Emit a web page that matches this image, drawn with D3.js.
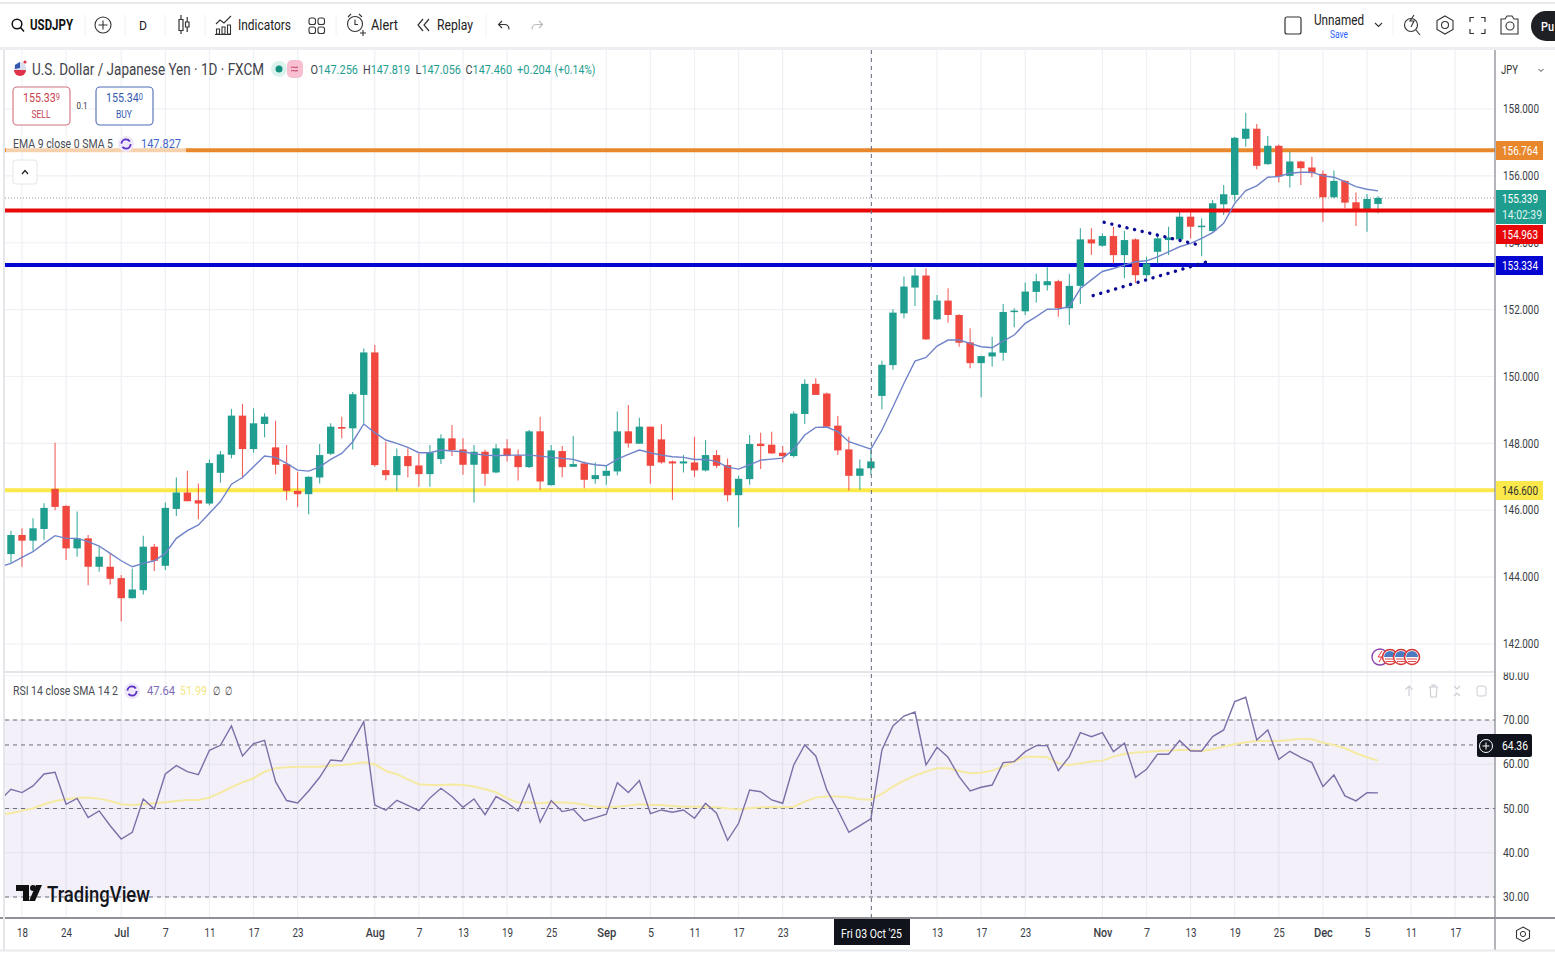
<!DOCTYPE html>
<html>
<head>
<meta charset="utf-8">
<title>USDJPY</title>
<script src="https://cdn.jsdelivr.net/npm/d3@7"></script>
<style>
  html, body { margin: 0; padding: 0; background: #fff; overflow: hidden; }
  svg { display: block; }
  text { font-family: Roboto, sans-serif; }
</style>
</head>
<body>
<script>
// daily bars, first entry is two bars before 18 Jun
var opens = [144.50,144.69,145.26,145.09,145.44,146.64,146.13,144.86,145.16,144.31,
  144.31,143.97,143.37,143.61,144.91,144.34,146.04,146.53,146.30,146.20,
  147.12,147.66,148.83,147.83,148.58,147.88,147.38,146.58,146.48,146.98,
  147.69,148.49,148.45,149.45,150.72,147.20,147.05,147.62,147.34,147.08,
  147.53,148.15,147.82,147.36,147.75,147.13,147.85,147.64,147.29,148.36,
  146.75,147.77,147.30,147.40,146.93,147.03,147.16,148.36,147.99,148.50,
  148.12,147.46,147.40,147.43,147.19,147.65,147.35,146.45,146.93,147.99,
  147.96,147.72,147.62,148.88,149.78,149.49,148.53,147.82,147.03,147.256,
  149.42,150.34,151.89,152.66,153.02,151.71,152.27,151.84,151.02,150.40,
  150.60,150.71,151.93,151.95,152.53,152.73,152.85,152.04,152.71,154.10,
  153.91,154.20,153.63,154.10,153.03,153.73,154.08,154.10,154.78,154.49,
  154.35,155.15,155.43,157.11,157.41,156.35,156.90,156.00,156.43,156.25,
  156.06,155.36,155.85,155.21,155.00,155.16];
var highs = [144.90,145.39,145.46,145.76,146.21,148.02,146.15,145.96,145.26,144.91,
  144.71,144.06,144.26,145.24,144.99,146.23,146.98,147.18,146.80,147.52,
  147.77,149.03,149.18,149.05,148.90,148.68,147.95,147.15,147.02,147.98,
  148.60,148.80,149.54,150.84,150.94,148.05,147.85,147.85,147.70,147.95,
  148.27,148.55,148.15,147.95,147.82,147.98,148.12,147.82,148.40,148.80,
  147.95,147.92,148.22,147.46,147.43,147.33,148.95,149.15,148.77,148.50,
  148.57,147.49,147.65,148.20,148.10,147.80,147.55,147.03,148.25,148.32,
  148.35,147.92,148.95,149.92,149.95,149.52,148.82,148.20,147.52,147.819,
  150.47,152.01,152.99,153.24,153.24,152.44,152.64,151.86,151.44,150.62,
  151.19,152.17,152.04,152.81,153.07,153.27,152.89,153.07,154.43,154.43,
  154.28,154.48,154.36,154.13,153.58,154.28,154.48,154.98,154.93,154.73,
  155.28,155.73,157.17,157.89,157.55,157.19,156.94,156.72,156.45,156.57,
  156.16,156.16,155.88,155.50,155.46,155.40];
var lows = [144.20,144.43,144.31,144.79,145.11,146.00,144.51,144.61,143.76,144.16,
  143.78,142.67,143.36,143.48,144.18,144.21,145.83,146.27,145.73,146.15,
  146.82,147.55,146.95,147.72,148.18,147.08,146.30,146.10,145.88,146.80,
  147.65,148.15,147.82,148.60,147.30,146.90,146.58,146.98,146.70,146.70,
  147.38,147.62,147.06,146.23,146.73,147.11,147.46,146.89,147.26,146.61,
  146.74,146.99,147.29,146.66,146.79,146.76,147.05,147.88,147.98,146.79,
  147.39,146.31,147.13,146.99,147.16,147.26,146.26,145.49,146.76,147.23,
  147.68,147.43,147.58,148.58,149.45,148.48,147.65,146.59,146.61,147.056,
  149.02,150.20,151.74,152.11,151.09,151.69,151.61,150.89,150.25,149.38,
  150.30,150.47,151.47,151.84,152.21,152.57,151.79,151.54,152.17,153.63,
  153.88,153.38,152.94,152.80,152.94,153.38,153.63,154.03,154.13,153.60,
  154.33,154.83,155.23,156.87,156.20,156.33,155.80,155.65,155.73,155.96,
  154.63,155.33,155.03,154.50,154.33,154.88];
var closes = [144.70,145.26,145.09,145.46,146.07,146.10,144.86,145.16,144.31,144.61,
  143.95,143.37,143.63,144.91,144.49,146.07,146.53,146.27,146.20,147.41,
  147.67,148.83,147.83,148.60,148.80,147.36,146.58,146.48,147.00,147.65,
  148.50,148.44,149.47,150.72,147.35,147.05,147.62,147.32,147.08,147.72,
  148.15,147.80,147.36,147.75,147.09,147.85,147.62,147.29,148.36,146.86,
  147.79,147.29,147.38,146.91,147.05,147.18,148.36,148.00,148.50,147.33,
  147.43,147.40,147.46,147.19,147.65,147.33,146.45,146.94,147.98,147.92,
  147.70,147.62,148.89,149.78,149.45,148.50,147.79,147.03,147.25,147.46,
  150.35,151.91,152.69,153.02,151.11,152.27,151.84,151.01,150.40,150.61,
  150.72,151.93,151.97,152.54,152.85,152.85,152.04,152.71,154.10,153.98,
  154.20,153.63,154.08,153.03,153.38,154.13,154.16,154.78,154.48,154.51,
  155.18,155.45,157.14,157.41,156.30,156.90,155.98,156.43,156.23,156.08,
  155.36,155.85,155.20,154.93,155.31,155.339];
var ema = [144.31,144.41,144.59,144.76,145.01,145.24,145.16,145.16,145.06,144.93,
  144.71,144.49,144.31,144.41,144.49,144.71,145.16,145.39,145.56,145.91,
  146.26,146.78,146.98,147.30,147.62,147.58,147.40,147.20,147.17,147.30,
  147.52,147.70,148.05,148.58,148.32,148.10,148.00,147.88,147.72,147.72,
  147.80,147.77,147.75,147.69,147.65,147.63,147.65,147.65,147.65,147.62,
  147.58,147.55,147.52,147.42,147.36,147.33,147.53,147.67,147.80,147.72,
  147.65,147.60,147.58,147.52,147.52,147.46,147.29,147.23,147.36,147.50,
  147.53,147.56,147.82,148.25,148.48,148.49,148.35,148.05,147.94,147.827,
  148.40,149.09,149.80,150.46,150.57,150.91,151.09,151.09,150.99,150.89,
  150.86,151.06,151.24,151.59,151.79,152.01,152.02,152.09,152.63,152.89,
  153.14,153.23,153.33,153.43,153.46,153.58,153.73,153.88,153.98,154.13,
  154.30,154.58,155.18,155.56,155.70,155.96,155.98,156.08,156.11,156.11,
  156.00,155.96,155.83,155.68,155.60,155.55];
var rsi = [51.9,54.34,53.59,55.1,57.8,58.2,50.95,52.3,47.94,49.45,
  46.1,43.1,44.6,52.16,49.9,57.8,59.7,58.33,57.66,63.15,
  64.28,68.65,61.87,64.66,65.4,56.07,51.8,51.25,53.97,57.05,
  60.97,60.74,65.1,69.63,50.8,49.6,51.86,50.73,49.5,52.4,
  54.57,52.7,50.28,52.16,48.6,52.7,51.33,49.45,55.47,46.9,
  51.78,49.3,49.82,47.2,47.94,48.7,55.85,53.6,56.3,48.85,
  49.67,49.15,49.67,47.8,51.18,48.92,42.82,46.66,54.19,53.8,
  51.93,51.18,59.84,64.36,61.87,54.19,49.67,44.63,46.13,47.64,
  63.23,68.65,70.9,71.8,59.84,63.83,61.57,57.2,53.97,54.8,
  55.3,60.37,60.6,62.85,64.21,64.21,58.56,61.73,67.15,66.24,
  67.15,62.85,64.74,57.06,58.86,62.25,62.25,65.34,63.0,63.0,
  66.24,67.75,74.15,75.13,65.49,67.75,61.12,62.93,61.57,60.37,
  54.95,57.58,52.84,51.71,53.59,53.52];
var rsiMa = [48.7,48.92,49.52,50.05,50.95,51.7,52.08,52.38,52.46,52.23,
  51.7,50.95,50.8,50.95,51.18,51.4,51.7,51.93,51.93,52.46,
  53.59,54.8,55.92,56.83,58.33,59.09,59.31,59.46,59.46,59.46,
  59.69,59.84,60.07,60.44,59.99,58.48,57.73,56.6,55.47,55.32,
  55.32,55.4,55.32,54.95,54.34,53.67,52.3,51.33,51.33,51.18,
  51.4,51.33,51.25,50.88,50.4,50.3,50.4,50.65,50.95,50.8,
  50.8,50.58,50.4,50.4,50.4,50.3,50.0,49.8,50.05,50.3,
  50.35,50.3,50.4,51.55,52.46,52.69,52.69,52.54,52.08,51.99,
  53.29,54.95,56.3,57.43,58.33,59.09,59.09,58.48,57.96,58.1,
  58.56,59.47,60.6,61.72,61.72,61.57,60.2,59.84,60.2,60.6,
  60.82,61.72,62.33,62.63,62.78,63.0,63.08,63.23,63.23,63.0,
  63.38,63.98,64.51,64.96,65.26,65.26,65.26,65.49,65.79,65.64,
  64.89,64.36,63.61,62.48,61.57,60.82];

var priceTicks = [158,156,154,152,150,148,146,144,142];
var rsiTicks = [80,70,60,50,40,30];
var rsiLevels = [70, 64.36, 50, 30];
var timeIdx = [2,6,11,15,19,23,27,34,38,42,46,50,55,59,63,67,71,79,85,89,93,100,104,108,112,116,120,124,128,132];
var timeLabels = ["18","24","Jul","7","11","17","23","Aug","7","13","19","25","Sep","5","11","17","23","","13","17","23","Nov","7","13","19","25","Dec","5","11","17"];
var crossIdx = 79;

var levelPrices = [146.6, 153.334, 154.963, 156.764];
var levelColors = ["#fbe84a", "#0505d2", "#e80808", "#e8872c"];
var lastPrice = 155.339;
var trendUpper = [[100.16, 154.61], [109.06, 153.91]];
var trendLower = [[99.16, 152.42], [110.0, 153.48]];

var W = 1555, H = 955;
var plotL = 5, plotR = 1495, priceT = 50, priceB = 672, rsiB = 918;

var bars = opens.map(function(o, i) {
  return {i: i, open: o, high: highs[i], low: lows[i], close: closes[i], ema: ema[i], rsi: rsi[i], ma: rsiMa[i]};
});

var x = d3.scaleLinear().domain([2, 124]).range([22, 1367]);
var y = d3.scaleLinear().domain([142, 158]).range([644, 109]);
var yr = d3.scaleLinear().domain([30, 70]).range([897, 720]);

var svg = d3.select("body").append("svg").attr("width", W).attr("height", H);
svg.append("rect").attr("width", W).attr("height", H).attr("fill", "#fff");

var defs = svg.append("defs");
defs.append("clipPath").attr("id", "priceClip").append("rect")
  .attr("x", plotL).attr("y", priceT).attr("width", plotR - plotL).attr("height", priceB - priceT);
defs.append("clipPath").attr("id", "rsiClip").append("rect")
  .attr("x", plotL).attr("y", priceB).attr("width", plotR - plotL).attr("height", rsiB - priceB);
// local to the axis group, which is moved to x=1498
defs.append("clipPath").attr("id", "rsiAxisClip").append("rect")
  .attr("x", 0).attr("y", priceB + 1).attr("width", 60).attr("height", rsiB - priceB);

// squeezed text, the screenshot was narrowed so fit everything to its measured width
function label(x0, y0, str, size, fill, width, anchor, weight) {
  var t = svg.append("text").attr("x", x0).attr("y", y0).attr("dy", "0.36em")
    .attr("font-size", size).attr("fill", fill).text(str);
  if (width) t.attr("textLength", width).attr("lengthAdjust", "spacingAndGlyphs");
  if (anchor) t.attr("text-anchor", anchor);
  if (weight) t.attr("font-weight", weight);
  return t;
}
// same, with a first run in one colour and the rest in another
function label2(x0, y0, a, b, size, fillA, fillB, width, sizeB) {
  var t = label(x0, y0, "", size, fillA, width);
  t.append("tspan").text(a);
  var s = t.append("tspan").attr("fill", fillB).text(b);
  if (sizeB) s.attr("font-size", sizeB).attr("dy", -2);
  return t;
}
function icon(d, stroke, sw, fill) {
  return svg.append("path").attr("d", d).attr("fill", fill || "none")
    .attr("stroke", stroke || "#222").attr("stroke-width", sw || 1.2);
}

// grid
var grid = svg.append("g").attr("stroke", "#eef0f4").attr("stroke-width", 1.2);
grid.selectAll(".v").data(timeIdx).enter().append("line")
  .attr("x1", function(d) { return x(d); }).attr("x2", function(d) { return x(d); })
  .attr("y1", priceT).attr("y2", rsiB);
grid.selectAll(".h").data(priceTicks).enter().append("line")
  .attr("x1", plotL).attr("x2", plotR)
  .attr("y1", function(d) { return y(d); }).attr("y2", function(d) { return y(d); });
grid.selectAll(".r").data(rsiTicks).enter().append("line")
  .attr("x1", plotL).attr("x2", plotR)
  .attr("y1", function(d) { return yr(d); }).attr("y2", function(d) { return yr(d); });

// price pane
var price = svg.append("g").attr("clip-path", "url(#priceClip)");
price.append("line").attr("x1", plotL).attr("x2", plotR)
  .attr("y1", y(lastPrice)).attr("y2", y(lastPrice))
  .attr("stroke", "#8f9a9a").attr("stroke-width", 1).attr("stroke-dasharray", "1 2");

// yellow, blue and orange sit behind the candles, red in front
function levelLine(g, idx) {
  g.append("line").attr("x1", plotL).attr("x2", plotR)
    .attr("y1", y(levelPrices[idx])).attr("y2", y(levelPrices[idx]))
    .attr("stroke", levelColors[idx]).attr("stroke-width", 4);
}
levelLine(price, 0);
levelLine(price, 1);
levelLine(price, 3);

var candle = price.selectAll(".candle").data(bars).enter().append("g").attr("class", "candle");
function barColor(d) { return d.close >= d.open ? "#1f9e8f" : "#f0473f"; }
candle.append("line")
  .attr("x1", function(d) { return x(d.i); }).attr("x2", function(d) { return x(d.i); })
  .attr("y1", function(d) { return y(d.high); }).attr("y2", function(d) { return y(d.low); })
  .attr("stroke", barColor).attr("stroke-width", 1.1).attr("stroke-opacity", 0.85);
candle.append("rect")
  .attr("x", function(d) { return x(d.i) - 3.7; }).attr("width", 7.4)
  .attr("y", function(d) { return y(Math.max(d.open, d.close)); })
  .attr("height", function(d) { return Math.max(1.5, Math.abs(y(d.open) - y(d.close))); })
  .attr("fill", barColor);

levelLine(price, 2);

price.append("path").datum(bars)
  .attr("fill", "none").attr("stroke", "#6f83c9").attr("stroke-width", 1.4)
  .attr("d", d3.line().x(function(d) { return x(d.i); }).y(function(d) { return y(d.ema); }));

// hand drawn triangle
var trendLine = d3.line().x(function(d) { return x(d[0]); }).y(function(d) { return y(d[1]); });
[trendUpper, trendLower].forEach(function(t) {
  price.append("path").datum(t).attr("d", trendLine).attr("fill", "none")
    .attr("stroke", "#0a0a96").attr("stroke-width", 3.4).attr("stroke-linecap", "round")
    .attr("stroke-dasharray", "0.1 7.7");
});

// rsi pane
var rsiPane = svg.append("g").attr("clip-path", "url(#rsiClip)");
rsiPane.append("rect").attr("x", plotL).attr("width", plotR - plotL)
  .attr("y", yr(70)).attr("height", yr(30) - yr(70))
  .attr("fill", "#7e57c2").attr("fill-opacity", 0.09);
rsiPane.selectAll(".lvl").data(rsiLevels).enter().append("line")
  .attr("x1", plotL).attr("x2", plotR)
  .attr("y1", function(d) { return yr(d); }).attr("y2", function(d) { return yr(d); })
  .attr("stroke", "#6b6e78").attr("stroke-width", 1).attr("stroke-dasharray", "4 4");
rsiPane.append("path").datum(bars)
  .attr("fill", "none").attr("stroke", "#f6eaa2").attr("stroke-width", 2)
  .attr("d", d3.line().x(function(d) { return x(d.i); }).y(function(d) { return yr(d.ma); }));
rsiPane.append("path").datum(bars)
  .attr("fill", "none").attr("stroke", "#7d6fa8").attr("stroke-width", 1.4)
  .attr("d", d3.line().x(function(d) { return x(d.i); }).y(function(d) { return yr(d.rsi); }));

// crosshair
svg.append("line").attr("x1", x(crossIdx) + 0.5).attr("x2", x(crossIdx) + 0.5).attr("y1", priceT).attr("y2", rsiB)
  .attr("stroke", "#6b6e78").attr("stroke-width", 1).attr("stroke-dasharray", "4 4");

// frame
svg.append("line").attr("x1", plotL).attr("x2", plotR).attr("y1", priceB).attr("y2", priceB).attr("stroke", "#e3e5ea").attr("stroke-width", 2);
svg.append("line").attr("x1", 0).attr("x2", W).attr("y1", rsiB).attr("y2", rsiB).attr("stroke", "#6a6d74").attr("stroke-width", 1.3);
svg.append("line").attr("x1", plotR).attr("x2", plotR).attr("y1", priceT).attr("y2", 951).attr("stroke", "#8a8d94").attr("stroke-width", 1.3);
svg.append("line").attr("x1", 4).attr("x2", 4).attr("y1", priceT).attr("y2", 950).attr("stroke", "#e6e7ea").attr("stroke-width", 2);
svg.append("line").attr("x1", 0).attr("x2", W).attr("y1", 950.5).attr("y2", 950.5).attr("stroke", "#e8e9ec").attr("stroke-width", 2);

// axes
function squeeze(sel, w) {
  sel.selectAll("text").attr("textLength", w).attr("lengthAdjust", "spacingAndGlyphs")
    .attr("font-size", 13).attr("fill", "#3a3d45");
  sel.select(".domain").remove();
}
svg.append("g").attr("transform", "translate(1498,-0.5)")
  .call(d3.axisRight(y).tickValues(priceTicks).tickSize(0).tickPadding(5).tickFormat(d3.format(".3f")))
  .call(squeeze, 36);
svg.append("g").attr("transform", "translate(1498,-0.5)").attr("clip-path", "url(#rsiAxisClip)")
  .call(d3.axisRight(yr).tickValues(rsiTicks).tickSize(0).tickPadding(5).tickFormat(d3.format(".2f")))
  .call(squeeze, 26);

var timeAxis = svg.append("g").attr("transform", "translate(0," + (rsiB + 3) + ")")
  .call(d3.axisBottom(x).tickValues(timeIdx).tickSize(0).tickPadding(7)
    .tickFormat(function(d) { return timeLabels[timeIdx.indexOf(d)]; }));
timeAxis.select(".domain").remove();
timeAxis.selectAll("text").attr("font-size", 13).attr("fill", "#3a3d45")
  .attr("font-weight", function(d) { return timeLabels[timeIdx.indexOf(d)].length === 3 ? 500 : null; })
  .attr("textLength", function(d) {
    var s = timeLabels[timeIdx.indexOf(d)];
    return s === "Jul" ? 15 : s.length === 3 ? 19 : s.length === 2 ? 11 : 6;
  })
  .attr("lengthAdjust", "spacingAndGlyphs");

svg.append("rect").attr("x", 834).attr("y", 919).attr("width", 76).attr("height", 26).attr("fill", "#10131c");
label(841, 933.5, "Fri 03 Oct '25", 13, "#fff", 61);

// price tags on the axis
function tag(top, h, width, fill) {
  svg.append("rect").attr("x", plotR + 1).attr("y", top).attr("width", width).attr("height", h).attr("fill", fill);
}
tag(141, 19, 47, levelColors[3]);
label(1502, 150.5, "156.764", 13, "#fff", 36);
tag(190, 34, 50, "#1f9e8f");
label(1502, 198.5, "155.339", 13, "#fff", 36);
label(1502, 214.5, "14:02:39", 13, "#dff3ef", 40);
tag(225, 19, 47, "#e80808");
label(1502, 234.5, "154.963", 13, "#fff", 36);
tag(256, 19, 47, levelColors[1]);
label(1502, 265.5, "153.334", 13, "#fff", 36);
tag(481, 19, 47, levelColors[0]);
label(1502, 490.5, "146.600", 13, "#333", 36);

// rsi crosshair tag
svg.append("rect").attr("x", 1477).attr("y", 734).attr("width", 55).attr("height", 23).attr("rx", 2).attr("fill", "#10131c");
svg.append("circle").attr("cx", 1486).attr("cy", 746).attr("r", 6.5).attr("fill", "none").attr("stroke", "#fff").attr("stroke-width", 1);
icon("M1486 742.5v7M1482.5 746h7", "#fff", 1);
label(1502, 745, "64.36", 13, "#fff", 26);

// toolbar
svg.append("rect").attr("x", 0).attr("y", 2).attr("width", W).attr("height", 2).attr("fill", "#e8e9ec");
svg.append("rect").attr("x", 0).attr("y", 47).attr("width", W).attr("height", 3).attr("fill", "#eceef1");
svg.append("circle").attr("cx", 17).attr("cy", 24).attr("r", 4.8).attr("fill", "none").attr("stroke", "#111").attr("stroke-width", 1.5);
icon("M20.5 27.5l3.5 4", "#111", 1.5);
label(30, 25, "USDJPY", 14, "#111", 43, null, "bold");
svg.append("circle").attr("cx", 103).attr("cy", 25).attr("r", 8).attr("fill", "none").attr("stroke", "#333").attr("stroke-width", 1.1);
icon("M103 20.5v9M98.5 25h9", "#333", 1.1);
label(143, 25, "D", 13, "#222", 8, "middle");
icon("M179 19.5h4v11h-4zM181 15v4.5M181 30.5v3.5M185.5 22h3.5v5h-3.5zM187.2 17v5M187.2 27v5", "#333", 1.2);
icon("M216 24l4-4 4 3 7-7M216.5 34v-5h3v5zM222 34v-7h3v7zM227.5 34v-9h3v9zM215 34.5h16", "#333", 1.1);
label(238, 25, "Indicators", 15, "#222", 53);
[[309,18],[318,18],[309,27],[318,27]].forEach(function(p) {
  svg.append("rect").attr("x", p[0]).attr("y", p[1]).attr("width", 6.5).attr("height", 6.5).attr("rx", 2)
    .attr("fill", "none").attr("stroke", "#333").attr("stroke-width", 1.1);
});
svg.append("circle").attr("cx", 355).attr("cy", 24).attr("r", 7.5).attr("fill", "none").attr("stroke", "#333").attr("stroke-width", 1.1);
icon("M355 19.5v5h3M348 17l3-3M362 17l-3-3M360 33h6M363 30v6", "#333", 1.1);
label(371, 25, "Alert", 15, "#222", 27);
icon("M423 19l-5 6 5 6M429 19l-5 6 5 6", "#333", 1.2);
label(437, 25, "Replay", 15, "#222", 36);
icon("M502 21l-3.5 3.5 3.5 3.5M498.5 24.5h6c3 0 4.5 1.5 4.5 5", "#333", 1.1);
icon("M539 21l3.5 3.5-3.5 3.5M542.5 24.5h-6c-3 0-4.5 1.5-4.5 5", "#bbb", 1.1);
[85, 125, 165, 205, 336, 486, 1393].forEach(function(px) {
  svg.append("line").attr("x1", px).attr("x2", px).attr("y1", 14).attr("y2", 36).attr("stroke", "#f1f2f4");
});
svg.append("rect").attr("x", 1285).attr("y", 17).attr("width", 16).attr("height", 17).attr("rx", 2)
  .attr("fill", "none").attr("stroke", "#333").attr("stroke-width", 1.2);
label(1314, 20, "Unnamed", 14, "#222", 50);
label(1330, 34, "Save", 10, "#2962ff", 18);
icon("M1375 23l3.5 3.5 3.5-3.5", "#333", 1.1);
svg.append("circle").attr("cx", 1411).attr("cy", 25).attr("r", 6.5).attr("fill", "none").attr("stroke", "#333").attr("stroke-width", 1.1);
icon("M1416 30l4 5M1414 15l-4 6h4l-3 6", "#333", 1.1);
icon("M1445 16l8 4.5v9l-8 4.5-8-4.5v-9z", "#333", 1.1);
svg.append("circle").attr("cx", 1445).attr("cy", 25).attr("r", 3.5).attr("fill", "none").attr("stroke", "#333").attr("stroke-width", 1.1);
icon("M1470 22v-4.5h4M1481 17.5h4v4.5M1485 29v4.5h-4M1474 33.5h-4v-4.5", "#333", 1.2);
icon("M1501 19h4l2-3h5l2 3h4v15h-17z", "#333", 1.1);
svg.append("circle").attr("cx", 1510).attr("cy", 26).attr("r", 4).attr("fill", "none").attr("stroke", "#333").attr("stroke-width", 1.1);
svg.append("rect").attr("x", 1531).attr("y", 11).attr("width", 50).attr("height", 30).attr("rx", 15).attr("fill", "#1e2024");
label(1541, 26, "Pu", 13, "#fff", 13, null, "500");

// legend, top of price pane
svg.append("circle").attr("cx", 20).attr("cy", 68).attr("r", 6).attr("fill", "#d9dfee");
svg.append("path").attr("d", "M14 70a6 6 0 0 0 12 0z").attr("fill", "#e0334a");
svg.append("path").attr("d", "M15 65l5-3v6l-5 1z").attr("fill", "#3557b0");
svg.append("circle").attr("cx", 25).attr("cy", 62).attr("r", 1.6).attr("fill", "#e0334a");
label(32, 69.5, "U.S. Dollar / Japanese Yen · 1D · FXCM", 16, "#3f424a", 232);
svg.append("circle").attr("cx", 279).attr("cy", 69).attr("r", 8).attr("fill", "#dcf2ef");
svg.append("circle").attr("cx", 279).attr("cy", 69).attr("r", 3.5).attr("fill", "#14907f");
svg.append("rect").attr("x", 287).attr("y", 60).attr("width", 16).attr("height", 18).attr("rx", 5).attr("fill", "#f7bfcf");
icon("M291 67.5c2-1.5 4 1 7-.5M291 71c2-1.5 4 1 7-.5", "#c0395f", 1);
[["O", "147.256", 310.5, 358], ["H", "147.819", 363, 410], ["L", "147.056", 415.5, 461], ["C", "147.460", 465.5, 512]].forEach(function(o) {
  label2(o[2], 69.5, o[0], o[1], 13, "#3f424a", "#1f9e8f", o[3] - o[2]);
});
label(517, 69.5, "+0.204", 13, "#1f9e8f", 34);
label(554.5, 69.5, "(+0.14%)", 13, "#1f9e8f", 41);

svg.append("rect").attr("x", 13).attr("y", 87).attr("width", 57).attr("height", 38).attr("rx", 4).attr("fill", "#fff").attr("stroke", "#d0727c").attr("stroke-width", 1.1);
label2(23, 97.5, "155.33", "9", 13, "#c8434f", "#c8434f", 37, 9);
label(41, 114, "SELL", 11, "#c8434f", 19, "middle");
label(82, 106, "0.1", 9, "#333", 11, "middle");
svg.append("rect").attr("x", 96).attr("y", 87).attr("width", 57).attr("height", 38).attr("rx", 4).attr("fill", "#fff").attr("stroke", "#4f6cb5").attr("stroke-width", 1.1);
label2(106, 97.5, "155.34", "0", 13, "#3558b0", "#3558b0", 37, 9);
label(124, 114, "BUY", 11, "#3558b0", 16, "middle");

svg.append("rect").attr("x", 6).attr("y", 136).attr("width", 180).attr("height", 17).attr("fill", "#fff").attr("fill-opacity", 0.62);
label(13, 143.5, "EMA 9 close 0 SMA 5", 13, "#4a4d55", 100);
function loopIcon(cx, cy) {
  svg.append("circle").attr("cx", cx).attr("cy", cy).attr("r", 8).attr("fill", "#efe8fb");
  svg.append("circle").attr("cx", cx).attr("cy", cy).attr("r", 4.6).attr("fill", "none")
    .attr("stroke", "#5a2fc2").attr("stroke-width", 1.8).attr("stroke-dasharray", "11 3.5");
}
loopIcon(126, 144);
label(141, 143.5, "147.827", 13, "#3f66c8", 40);

svg.append("rect").attr("x", 13).attr("y", 160).attr("width", 24).attr("height", 24).attr("rx", 3).attr("fill", "#fff").attr("stroke", "#e4e6ea");
icon("M22 174l3-3.5 3 3.5", "#222", 1.2);

label(1501, 70, "JPY", 12, "#333", 17);
icon("M1538.5 69l2.5 2.5 2.5-2.5", "#444", 1);

// rsi legend
label(13, 690.5, "RSI 14 close SMA 14 2", 13, "#4a4d55", 105);
loopIcon(132, 691);
label(147, 690.5, "47.64", 13, "#7e6bb5", 28);
label(180, 690.5, "51.99", 13, "#f3e887", 27);
label(213, 690.5, "∅", 12, "#333", 7);
label(225, 690.5, "∅", 12, "#333", 7);
icon("M1409 696v-10M1405.5 689.5l3.5-3.5 3.5 3.5", "#c9ccd2", 1.1);
icon("M1429 687h9M1430 687l.8 10h5.4l.8-10M1432 687v-2h3v2", "#c9ccd2", 1.1);
icon("M1454 686l3 3 3-3M1454 696l3-3 3 3", "#c9ccd2", 1.1);
svg.append("rect").attr("x", 1477).attr("y", 686).attr("width", 9).attr("height", 10).attr("rx", 2).attr("fill", "none").attr("stroke", "#c9ccd2");

// event badges
svg.append("circle").attr("cx", 1380).attr("cy", 657).attr("r", 8).attr("fill", "#fff").attr("stroke", "#8e44ad").attr("stroke-width", 1.4);
icon("M1382 651l-4 6h4l-3 5", "#e33", 1);
[1390, 1401, 1412].forEach(function(cx) {
  svg.append("circle").attr("cx", cx).attr("cy", 657).attr("r", 7.5).attr("fill", "#fff").attr("stroke", "#d93636").attr("stroke-width", 1.5);
  svg.append("path").attr("d", "M" + (cx - 6) + " 657a6 6 0 0 1 12 0z").attr("fill", "#4a7bc0");
  svg.append("path").attr("d", "M" + (cx - 5) + " 659h10M" + (cx - 4) + " 661.5h8").attr("stroke", "#e05050").attr("stroke-width", 1.2);
});

// watermark
svg.append("path").attr("d", "M16 885h13v16h-6v-10h-7zM36 885h6l-7 16h-6z").attr("fill", "#111");
svg.append("circle").attr("cx", 33).attr("cy", 888).attr("r", 3).attr("fill", "#111");
label(47, 894, "TradingView", 22, "#14161c", 103, null, "500");

// settings at the corner
icon("M1523 927l6.5 3.5v7.5l-6.5 3.5-6.5-3.5v-7.5z", "#333", 1.1);
svg.append("circle").attr("cx", 1523).attr("cy", 934).attr("r", 2.6).attr("fill", "none").attr("stroke", "#333");
</script>
</body>
</html>
